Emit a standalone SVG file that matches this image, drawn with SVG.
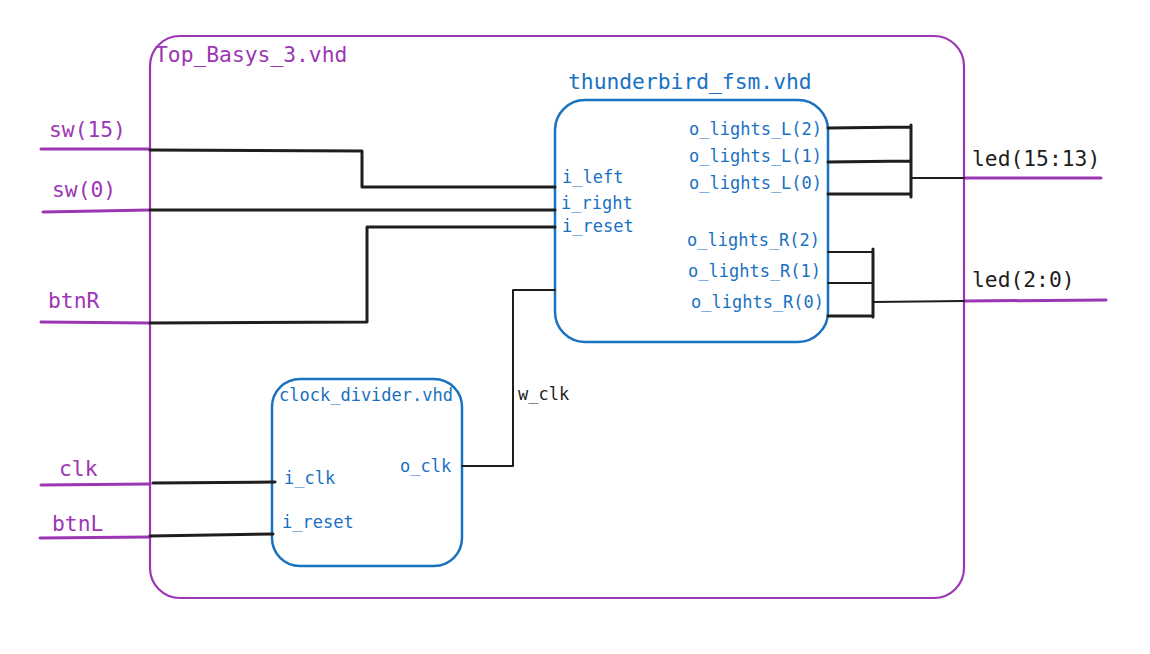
<svg xmlns="http://www.w3.org/2000/svg" width="1150" height="654" viewBox="0 0 1150 654">
<style>
text{font-family:"DejaVu Sans Mono","Liberation Mono",monospace}
.p{fill:#9c36b5;font-size:21.3px}
.k{fill:#1e1e1e;font-size:21.3px}
.t{fill:#1971c2;font-size:21.3px}
.b{fill:#1971c2;font-size:17px}
.w{fill:#1e1e1e;font-size:17px}
.box{fill:none;stroke:#1971c2;stroke-width:2.5}
.outer{fill:none;stroke:#9c36b5;stroke-width:2.2}
.wire{fill:none;stroke:#1e1e1e;stroke-width:3;stroke-linejoin:round;stroke-linecap:round}
.thin{fill:none;stroke:#1e1e1e;stroke-width:2;stroke-linejoin:round;stroke-linecap:round}
.pw{fill:none;stroke:#9c36b5;stroke-width:3;stroke-linecap:round}
</style>
<rect width="1150" height="654" fill="#ffffff"/>
<g id="top">
<rect class="outer" x="150" y="36" width="814" height="562" rx="30"/>
<text class="p" x="155" y="62">Top_Basys_3.vhd</text>
</g>
<g id="thunderbird_fsm">
<rect class="box" x="555" y="100" width="273" height="242" rx="30"/>
<text class="t" x="568" y="89">thunderbird_fsm.vhd</text>
<text class="b" x="562" y="183">i_left</text>
<text class="b" x="561" y="209">i_right</text>
<text class="b" x="562" y="232">i_reset</text>
<text class="b" x="689" y="135">o_lights_L(2)</text>
<text class="b" x="689" y="162">o_lights_L(1)</text>
<text class="b" x="689" y="189">o_lights_L(0)</text>
<text class="b" x="687" y="246">o_lights_R(2)</text>
<text class="b" x="688" y="277">o_lights_R(1)</text>
<text class="b" x="691" y="308">o_lights_R(0)</text>
</g>
<g id="clock_divider">
<rect class="box" x="272" y="379" width="190" height="187" rx="28"/>
<text class="b" x="279" y="401">clock_divider.vhd</text>
<text class="b" x="284" y="484">i_clk</text>
<text class="b" x="282" y="528">i_reset</text>
<text class="b" x="400" y="472">o_clk</text>
</g>
<g id="ports">
<text class="p" x="49" y="137">sw(15)</text>
<text class="p" x="52" y="197">sw(0)</text>
<text class="p" x="48" y="308">btnR</text>
<text class="p" x="59" y="476">clk</text>
<text class="p" x="52" y="531">btnL</text>
<text class="k" x="972" y="166">led(15:13)</text>
<text class="k" x="972" y="287">led(2:0)</text>
</g>
<g id="connectors">
<path class="pw" d="M41 149 L150 149"/>
<path class="pw" d="M43 212 L150 210"/>
<path class="pw" d="M41 322 L150 323"/>
<path class="pw" d="M41 485 L150 484"/>
<path class="pw" d="M40 538 L150 537"/>
<path class="pw" d="M964 178 L1101 178"/>
<path class="pw" d="M964 301 L1106 300"/>
<path class="wire" d="M150 150 L362 151 L362 187 L555 187"/>
<path class="wire" d="M150 210 L555 210"/>
<path class="wire" d="M150 323 L367 322 L367 227 L555 227"/>
<path class="wire" d="M153 483 L275 482"/>
<path class="wire" d="M150 536 L273 534"/>
<path class="thin" d="M462 466 L513 466 L513 290 L555 290"/>
<text class="w" x="518" y="400">w_clk</text>
<path class="wire" d="M828 128 L911 127 M828 162 L911 161 M828 194 L911 194 M911 125 L911 197"/>
<path class="thin" d="M911 178 L964 178"/>
<path class="thin" d="M828 252 L873 252 M828 283 L873 283"/>
<path class="wire" d="M828 316 L873 316 M873 249 L873 317"/>
<path class="thin" d="M873 302 L964 301"/>
</g>
</svg>
